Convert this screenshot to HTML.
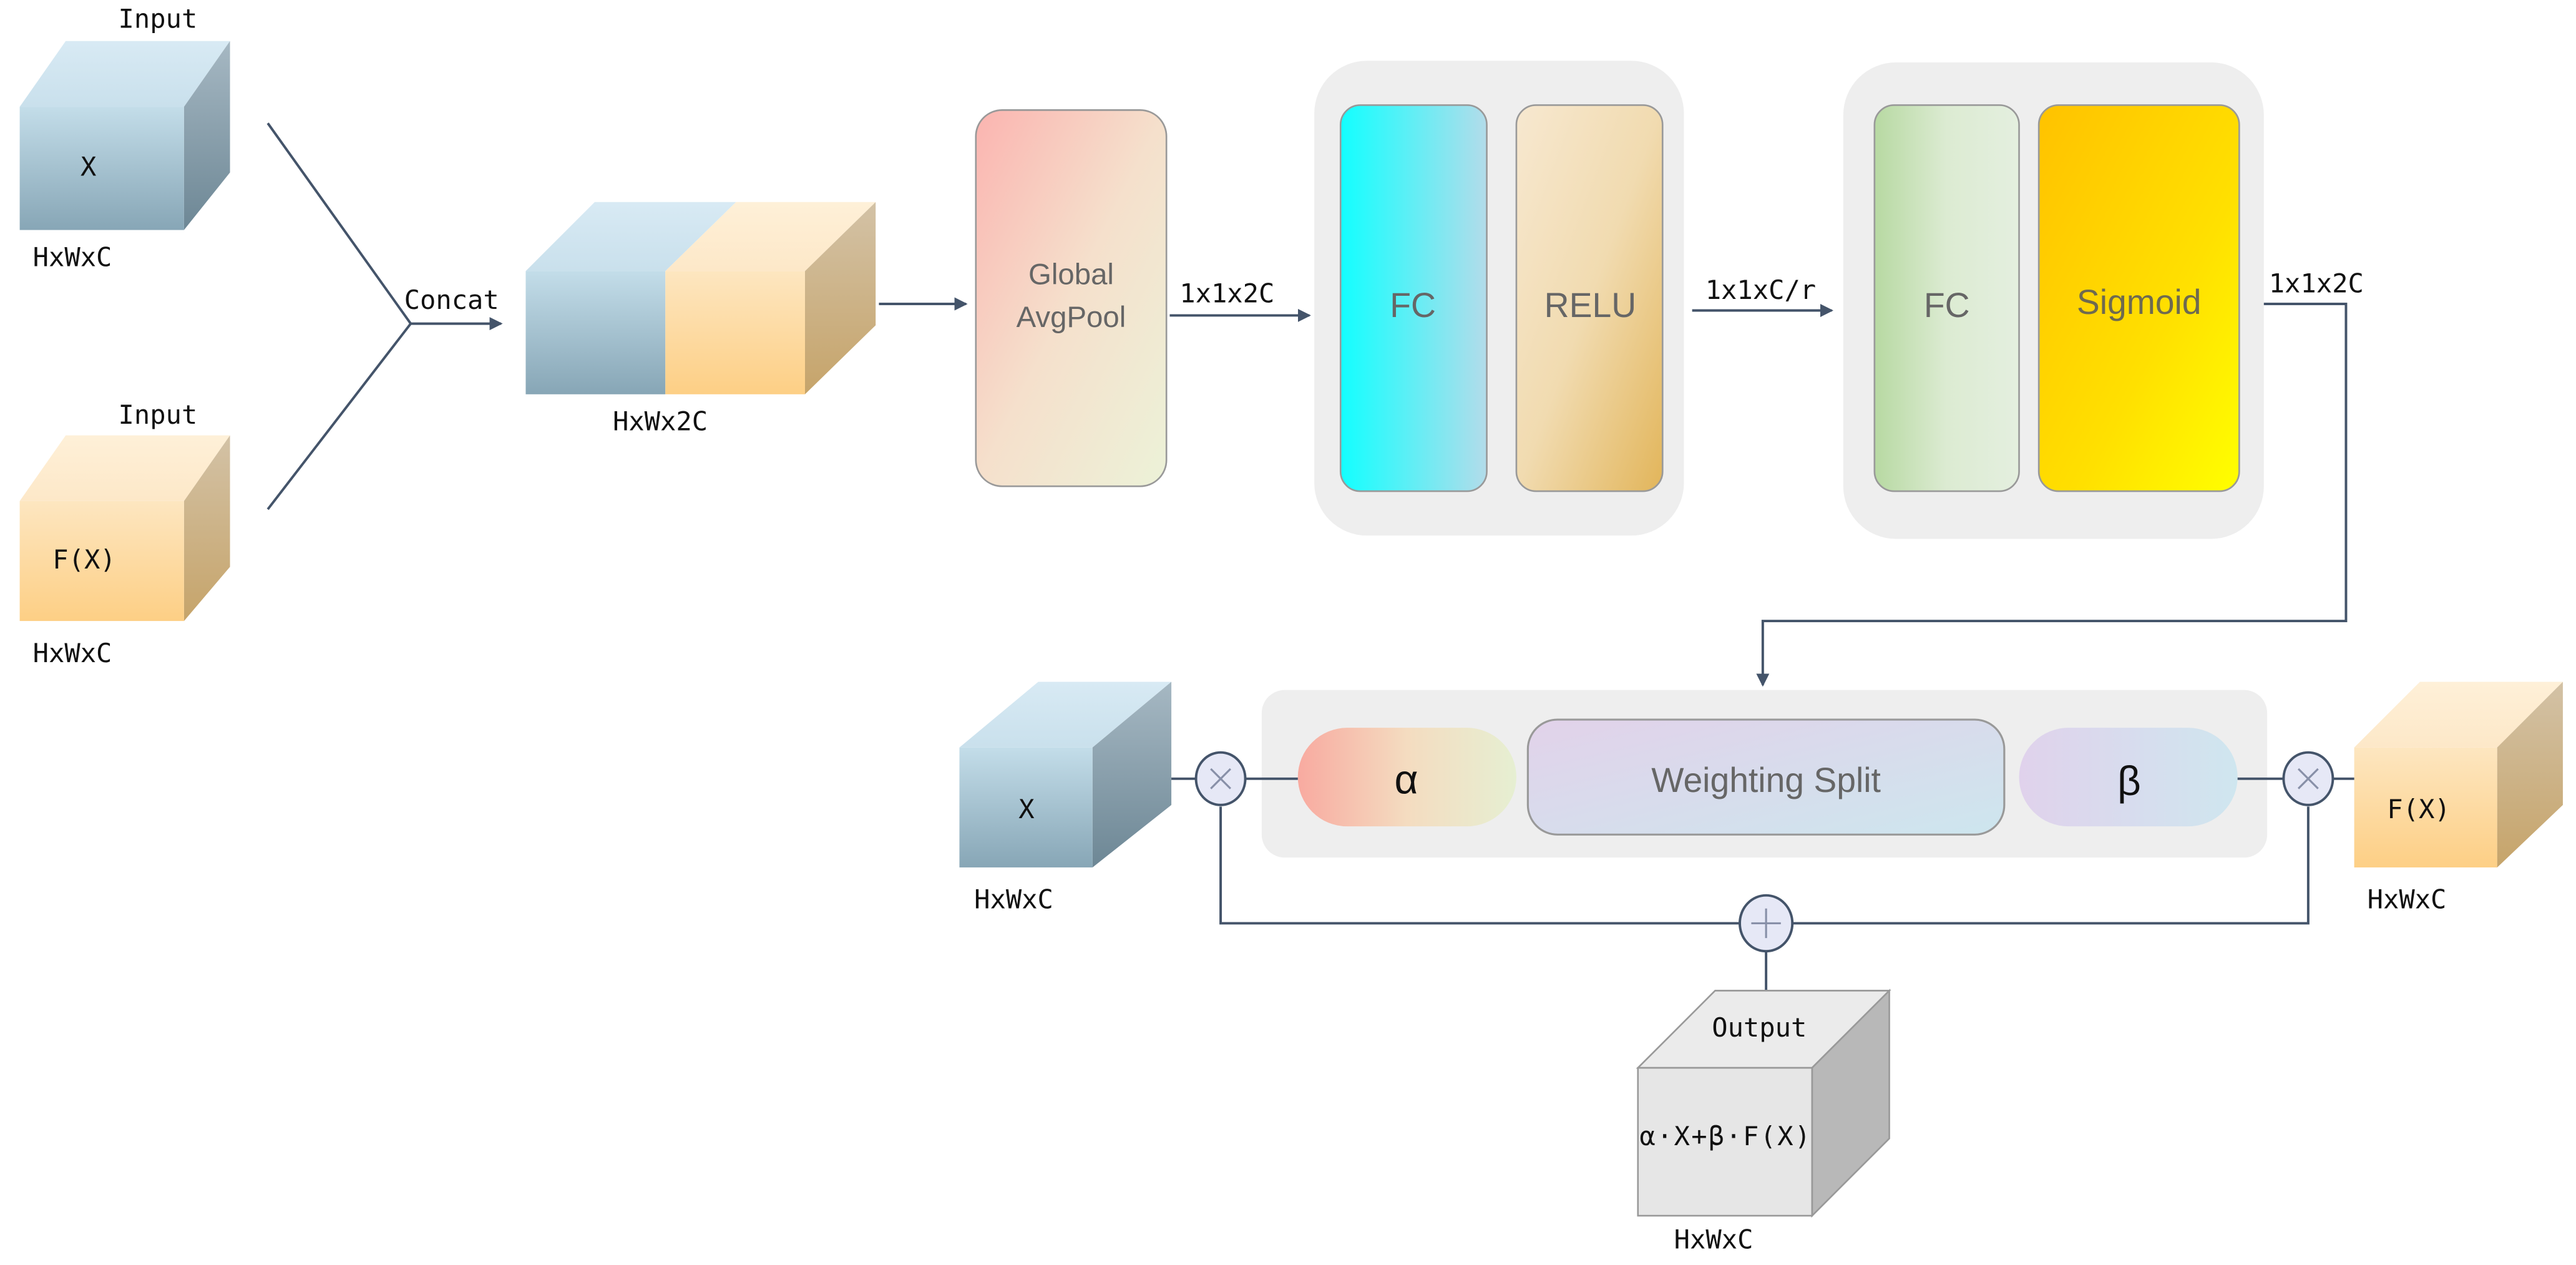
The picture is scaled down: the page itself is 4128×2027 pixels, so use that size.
<!DOCTYPE html>
<html><head><meta charset="utf-8"><style>
html,body{margin:0;padding:0;background:#fff;}
svg{display:block;}
.m{font-family:"DejaVu Sans Mono","Liberation Mono",monospace;font-size:16px;fill:#111;}
.s{font-family:"Liberation Sans","DejaVu Sans",sans-serif;fill:#666;}
</style></head><body>
<svg width="4128" height="2027" viewBox="0 0 1568 770" preserveAspectRatio="none" xmlns="http://www.w3.org/2000/svg">
<defs>
<linearGradient id="bF" x1="0" y1="0" x2="0" y2="1"><stop offset="0" stop-color="#c3dde9"/><stop offset="1" stop-color="#87a6b6"/></linearGradient>
<linearGradient id="bT" x1="0" y1="0" x2="0" y2="1"><stop offset="0" stop-color="#d8eaf4"/><stop offset="1" stop-color="#c9e0ec"/></linearGradient>
<linearGradient id="bS" x1="0" y1="0" x2="0" y2="1"><stop offset="0" stop-color="#a6b8c3"/><stop offset="1" stop-color="#6d8795"/></linearGradient>
<linearGradient id="oF" x1="0" y1="0" x2="0" y2="1"><stop offset="0" stop-color="#fde6c0"/><stop offset="1" stop-color="#fdcf85"/></linearGradient>
<linearGradient id="oT" x1="0" y1="0" x2="0" y2="1"><stop offset="0" stop-color="#fef0d8"/><stop offset="1" stop-color="#fde8c8"/></linearGradient>
<linearGradient id="oS" x1="0" y1="0" x2="0" y2="1"><stop offset="0" stop-color="#d3c2a6"/><stop offset="1" stop-color="#c6a46a"/></linearGradient>
<linearGradient id="gap" x1="0" y1="0" x2="1" y2="1"><stop offset="0" stop-color="#fbb4b0"/><stop offset="0.5" stop-color="#f5e0cc"/><stop offset="1" stop-color="#ecf2d8"/></linearGradient>
<linearGradient id="fc1" x1="0" y1="0" x2="1" y2="0"><stop offset="0" stop-color="#12ffff"/><stop offset="1" stop-color="#b3dcea"/></linearGradient>
<linearGradient id="relu" x1="0" y1="0" x2="1" y2="1"><stop offset="0" stop-color="#f7e8d0"/><stop offset="0.5" stop-color="#f1dbb0"/><stop offset="1" stop-color="#e2b55a"/></linearGradient>
<linearGradient id="fc2" x1="0" y1="0" x2="1" y2="0"><stop offset="0" stop-color="#b7d9a2"/><stop offset="0.5" stop-color="#dcebd2"/><stop offset="1" stop-color="#e4efdf"/></linearGradient>
<linearGradient id="sig" x1="0" y1="0" x2="1" y2="1"><stop offset="0" stop-color="#ffc200"/><stop offset="0.6" stop-color="#ffe000"/><stop offset="1" stop-color="#ffff00"/></linearGradient>
<linearGradient id="al" x1="0" y1="0" x2="1" y2="0"><stop offset="0" stop-color="#f8aaa0"/><stop offset="0.5" stop-color="#f4dcc0"/><stop offset="1" stop-color="#e6efd2"/></linearGradient>
<linearGradient id="ws" x1="0" y1="0" x2="1" y2="1"><stop offset="0" stop-color="#e2d2ea"/><stop offset="1" stop-color="#cde6ee"/></linearGradient>
<linearGradient id="be" x1="0" y1="0" x2="1" y2="0"><stop offset="0" stop-color="#e0d2ec"/><stop offset="1" stop-color="#cfe6ef"/></linearGradient>
<marker id="ar" markerWidth="8" markerHeight="8" refX="7" refY="4" orient="auto" markerUnits="userSpaceOnUse"><path d="M0,0 L8,4 L0,8 z" fill="#44546a"/></marker>
</defs>

<polygon points="12,65 40,25 140,25 112,65" fill="url(#bT)"/>
<polygon points="112,65 140,25 140,105 112,140" fill="url(#bS)"/>
<rect x="12" y="65" width="100" height="75" fill="url(#bF)"/>
<text class="m" x="72" y="17">Input</text>
<text class="m" x="49" y="107" font-size="17">X</text>
<text class="m" x="20" y="162">HxWxC</text>

<polygon points="12,305 40,265 140,265 112,305" fill="url(#oT)"/>
<polygon points="112,305 140,265 140,345 112,378" fill="url(#oS)"/>
<rect x="12" y="305" width="100" height="73" fill="url(#oF)"/>
<text class="m" x="72" y="258">Input</text>
<text class="m" x="32" y="346" font-size="17">F(X)</text>
<text class="m" x="20" y="403">HxWxC</text>

<polyline points="163,75 250,197 163,310" fill="none" stroke="#44546a" stroke-width="1.5"/>
<line x1="250" y1="197" x2="305" y2="197" stroke="#44546a" stroke-width="1.5" marker-end="url(#ar)"/>
<text class="m" x="246" y="188">Concat</text>

<polygon points="320,165 362,123 448,123 405,165" fill="url(#bT)"/>
<polygon points="405,165 448,123 533,123 490,165" fill="url(#oT)"/>
<polygon points="490,165 533,123 533,198 490,240" fill="url(#oS)"/>
<rect x="320" y="165" width="85" height="75" fill="url(#bF)"/>
<rect x="405" y="165" width="85" height="75" fill="url(#oF)"/>
<text class="m" x="373" y="262">HxWx2C</text>
<line x1="535" y1="185" x2="588" y2="185" stroke="#44546a" stroke-width="1.5" marker-end="url(#ar)"/>

<rect x="594" y="67" width="116" height="229" rx="16" fill="url(#gap)" stroke="#999" stroke-width="1"/>
<text class="s" x="652" y="173" font-size="18" text-anchor="middle">Global</text>
<text class="s" x="652" y="199" font-size="18" text-anchor="middle">AvgPool</text>
<text class="m" x="718" y="184">1x1x2C</text>
<line x1="712" y1="192" x2="797" y2="192" stroke="#44546a" stroke-width="1.5" marker-end="url(#ar)"/>

<rect x="800" y="37" width="225" height="289" rx="32" fill="#eeeeee"/>
<rect x="816" y="64" width="89" height="235" rx="12" fill="url(#fc1)" stroke="#999"/>
<rect x="923" y="64" width="89" height="235" rx="12" fill="url(#relu)" stroke="#999"/>
<text class="s" x="860" y="193" font-size="21" text-anchor="middle">FC</text>
<text class="s" x="968" y="193" font-size="21" text-anchor="middle">RELU</text>
<text class="m" x="1038" y="182">1x1xC/r</text>
<line x1="1030" y1="189" x2="1115" y2="189" stroke="#44546a" stroke-width="1.5" marker-end="url(#ar)"/>

<rect x="1122" y="38" width="256" height="290" rx="32" fill="#eeeeee"/>
<rect x="1141" y="64" width="88" height="235" rx="12" fill="url(#fc2)" stroke="#999"/>
<rect x="1241" y="64" width="122" height="235" rx="12" fill="url(#sig)" stroke="#999"/>
<text class="s" x="1185" y="193" font-size="21" text-anchor="middle">FC</text>
<text class="s" x="1302" y="191" font-size="21" text-anchor="middle" style="fill:#6e6a50">Sigmoid</text>
<text class="m" x="1381" y="178">1x1x2C</text>
<polyline points="1378,185 1428,185 1428,378 1073,378 1073,417" fill="none" stroke="#44546a" stroke-width="1.5" marker-end="url(#ar)"/>

<rect x="768" y="420" width="612" height="102" rx="14" fill="#eeeeee"/>
<rect x="790" y="443" width="133" height="60" rx="30" fill="url(#al)"/>
<rect x="930" y="438" width="290" height="70" rx="18" fill="url(#ws)" stroke="#999" stroke-width="1.2"/>
<rect x="1229" y="443" width="133" height="60" rx="30" fill="url(#be)"/>
<text class="s" x="856" y="483" font-size="25" text-anchor="middle" style="fill:#111">α</text>
<text class="s" x="1075" y="482" font-size="21" text-anchor="middle">Weighting Split</text>
<text class="s" x="1296" y="484" font-size="25" text-anchor="middle" style="fill:#111">β</text>

<polygon points="584,455 632,415 713,415 665,455" fill="url(#bT)"/>
<polygon points="665,455 713,415 713,490 665,528" fill="url(#bS)"/>
<rect x="584" y="455" width="81" height="73" fill="url(#bF)"/>
<text class="m" x="620" y="498" font-size="17">X</text>
<text class="m" x="593" y="553">HxWxC</text>

<polygon points="1433,455 1473,415 1560,415 1520,455" fill="url(#oT)"/>
<polygon points="1520,455 1560,415 1560,490 1520,528" fill="url(#oS)"/>
<rect x="1433" y="455" width="87" height="73" fill="url(#oF)"/>
<text class="m" x="1453" y="498" font-size="17">F(X)</text>
<text class="m" x="1441" y="553">HxWxC</text>

<g stroke="#44546a" stroke-width="1.5" fill="none">
<line x1="713" y1="474" x2="728" y2="474"/>
<line x1="758" y1="474" x2="790" y2="474"/>
<line x1="1362" y1="474" x2="1390" y2="474"/>
<line x1="1420" y1="474" x2="1433" y2="474"/>
<polyline points="743,491 743,562 1059,562"/>
<polyline points="1091,562 1405,562 1405,491"/>
<line x1="1075" y1="579" x2="1075" y2="645"/>
</g>
<g stroke="#44546a" stroke-width="1.5" fill="#e6e8f6">
<ellipse cx="743" cy="474" rx="15" ry="16"/>
<ellipse cx="1405" cy="474" rx="15" ry="16"/>
<ellipse cx="1075" cy="562" rx="16" ry="17"/>
</g>
<g stroke="#8890a8" stroke-width="1.2">
<line x1="737" y1="468" x2="749" y2="480"/><line x1="749" y1="468" x2="737" y2="480"/>
<line x1="1399" y1="468" x2="1411" y2="480"/><line x1="1411" y1="468" x2="1399" y2="480"/>
<line x1="1066" y1="562" x2="1084" y2="562"/><line x1="1075" y1="553" x2="1075" y2="571"/>
</g>

<polygon points="997,650 1044,603 1150,603 1103,650" fill="#ebebeb" stroke="#999" stroke-width="1"/>
<polygon points="1103,650 1150,603 1150,693 1103,740" fill="#b8b8b8" stroke="#999" stroke-width="1"/>
<rect x="997" y="650" width="106" height="90" fill="#e6e6e6" stroke="#999" stroke-width="1"/>
<text class="m" x="1042" y="631">Output</text>
<text class="m" x="998" y="697" font-size="15.5" textLength="104">α·X+β·F(X)</text>
<text class="m" x="1019" y="760">HxWxC</text>
</svg>
</body></html>
